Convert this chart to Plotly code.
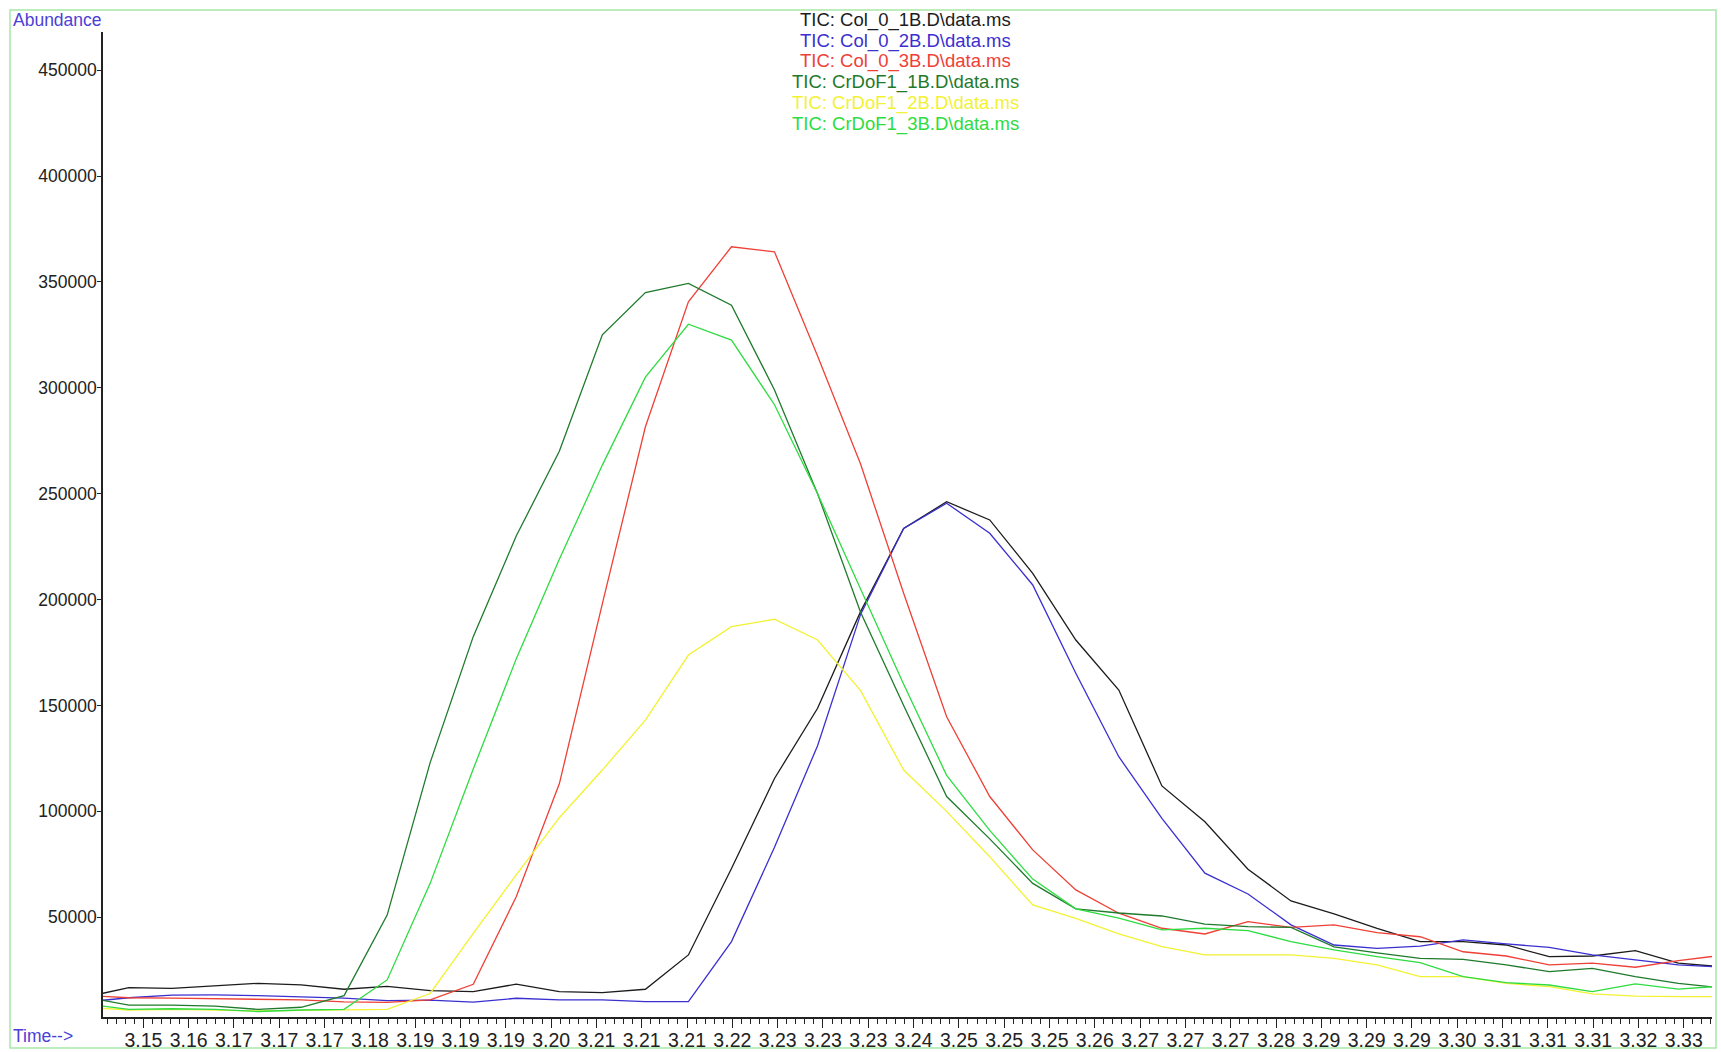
import plotly.graph_objects as go

# ---- data ----
time_min = [3.14327, 3.14831, 3.15334, 3.15838, 3.16341, 3.16845, 3.17348, 3.17852,
            3.18355, 3.18859, 3.19362, 3.19866, 3.20369, 3.20873, 3.21376, 3.21880,
            3.22383, 3.22887, 3.23390, 3.23894, 3.24397, 3.24901, 3.25404, 3.25908,
            3.26411, 3.26915, 3.27418, 3.27922, 3.28425, 3.28929, 3.29432, 3.29936,
            3.30439, 3.30943, 3.31446, 3.31950, 3.32453, 3.32957, 3.33460]

col_0_1b = [12300, 16800, 16400, 17500, 18800, 18100, 16000, 17400, 15400, 14900,
            18400, 14900, 14400, 16000, 32200, 73000, 115500, 148700, 194300, 233600,
            246200, 237600, 212400, 180900, 157300, 112000, 95100, 72700, 57700, 51600,
            44800, 38500, 38500, 36900, 31400, 31700, 34200, 28300, 26600]

col_0_2b = [10000, 12000, 13200, 13300, 13000, 12300, 11800, 10600, 10900, 9900,
            11750, 10950, 10950, 10150, 10150, 38500, 83000, 131000, 193000, 233600,
            245500, 231300, 206900, 165200, 125800, 96700, 70800, 61000, 46400, 36900,
            35300, 36400, 39300, 37400, 35800, 32200, 29800, 27500, 26500]

col_0_3b = [13000, 12000, 11800, 11500, 11200, 11000, 10000, 9850, 10950, 18350,
            59700, 113000, 198000, 281600, 340600, 366600, 364200, 315000, 264000, 203000,
            144700, 107000, 81800, 62900, 51900, 44800, 42100, 47900, 45200, 46400,
            42700, 40800, 33700, 31700, 27500, 28300, 26400, 29500, 32000]

crdof1_1b = [12200, 8500, 8500, 8000, 6500, 7500, 13000, 51000, 123000, 182500,
             230000, 270000, 325000, 345000, 349300, 339000, 299000, 250000, 194000, 150000,
             107000, 87000, 66000, 54000, 52000, 50600, 46800, 45600, 45200, 36000,
             33200, 30600, 30100, 27500, 24300, 25900, 22000, 18800, 16700]

crdof1_2b = [7500, 6200, 6500, 6300, 5800, 6000, 6300, 6500, 14000, 42400,
             70000, 97000, 119500, 143100, 173800, 187200, 190700, 180900, 157000, 119500,
             100000, 78600, 55800, 49500, 42100, 36100, 32200, 32200, 32200, 30600,
             27500, 22000, 22000, 18800, 17200, 13800, 12800, 12500, 12500]

crdof1_3b = [9000, 6500, 6800, 6500, 5500, 6200, 6500, 20400, 66000, 120000,
             172000, 219000, 263500, 305000, 330000, 322500, 292000, 250000, 205000, 160000,
             117000, 91000, 68000, 54000, 49600, 44000, 44800, 43700, 38500, 34600,
             31400, 28600, 22000, 19100, 18000, 14900, 18500, 16100, 17500]

series_names = ["TIC: Col_0_1B.D\\data.ms", "TIC: Col_0_2B.D\\data.ms", "TIC: Col_0_3B.D\\data.ms",
                "TIC: CrDoF1_1B.D\\data.ms", "TIC: CrDoF1_2B.D\\data.ms", "TIC: CrDoF1_3B.D\\data.ms"]
series_values = [col_0_1b, col_0_2b, col_0_3b, crdof1_1b, crdof1_2b, crdof1_3b]
series_colors = ["#1c1c1c", "#3b2fd0", "#ee4036", "#1f7a2c", "#f2f232", "#2edc40"]

x_tick_labels = ["3.15", "3.16", "3.17", "3.17", "3.17", "3.18", "3.19", "3.19", "3.19", "3.20",
                 "3.21", "3.21", "3.21", "3.22", "3.23", "3.23", "3.23", "3.24", "3.25", "3.25",
                 "3.25", "3.26", "3.27", "3.27", "3.27", "3.28", "3.29", "3.29", "3.29", "3.30",
                 "3.31", "3.31", "3.31", "3.32", "3.33"]
y_tick_values = [50000, 100000, 150000, 200000, 250000, 300000, 350000, 400000, 450000]

# ---- layout constants ----
W, H = 1721, 1052
ML, MR, MT, MB = 103, 9, 32, 35
PW, PH = W - ML - MR, H - MT - MB
FONT = "Liberation Sans, Arial, sans-serif"
TXT = "#222222"
LABEL_BLUE = "#4b3fd6"

X_TICK0, X_STEP = 3.150, 0.0053


def px_to_paper_x(px):
    return (px - ML) / PW


def px_to_paper_y(py):
    return 1 - (py - MT) / PH


fig = go.Figure()
for name, vals, col in zip(series_names, series_values, series_colors):
    fig.add_trace(go.Scatter(x=time_min, y=vals, mode="lines", name=name,
                             line=dict(color=col, width=1.3), showlegend=False))

x_tickvals = [X_TICK0 + i * X_STEP for i in range(len(x_tick_labels))]

fig.update_xaxes(
    range=[3.14528, 3.3335], showline=True, linecolor=TXT, linewidth=1.5,
    ticks="outside", ticklen=9, tickwidth=1.3, tickcolor=TXT,
    tickmode="array", tickvals=x_tickvals, ticktext=x_tick_labels,
    tickfont=dict(family=FONT, size=19.5, color=TXT), ticklabelstandoff=-4,
    showgrid=False, zeroline=False, mirror=False, automargin=False,
    minor=dict(ticks="outside", ticklen=5, tickwidth=1, tickcolor=TXT,
               tickmode="linear", tick0=X_TICK0, dtick=X_STEP / 5, showgrid=False),
)
fig.update_yaxes(
    range=[2900, 468000], showline=True, linecolor=TXT, linewidth=1.5,
    ticks="outside", ticklen=4, tickwidth=1.2, tickcolor=TXT,
    tickmode="array", tickvals=y_tick_values, ticktext=[str(v) for v in y_tick_values],
    tickfont=dict(family=FONT, size=17.5, color=TXT), ticklabelstandoff=-3,
    showgrid=False, zeroline=False, automargin=False,
)

annotations = [
    dict(text="Abundance", x=px_to_paper_x(11), y=px_to_paper_y(20), xref="paper", yref="paper",
         xanchor="left", yanchor="middle", showarrow=False,
         font=dict(family=FONT, size=17.5, color=LABEL_BLUE)),
    dict(text="Time-->", x=px_to_paper_x(11), y=px_to_paper_y(1036), xref="paper", yref="paper",
         xanchor="left", yanchor="middle", showarrow=False,
         font=dict(family=FONT, size=17.5, color=LABEL_BLUE)),
]
legend_y = [20, 40.7, 61.5, 82.3, 103.1, 124]
for name, col, ly in zip(series_names, series_colors, legend_y):
    annotations.append(dict(text=name, x=px_to_paper_x(905), y=px_to_paper_y(ly),
                            xref="paper", yref="paper", xanchor="center", yanchor="middle",
                            showarrow=False, font=dict(family=FONT, size=18.5, color=col)))

fig.update_layout(
    width=W, height=H, margin=dict(l=ML, r=MR, t=MT, b=MB, pad=0, autoexpand=False),
    paper_bgcolor="white", plot_bgcolor="white",
    annotations=annotations,
    shapes=[dict(type="rect", xref="paper", yref="paper",
                 x0=px_to_paper_x(10), x1=px_to_paper_x(1716),
                 y0=px_to_paper_y(1048), y1=px_to_paper_y(10),
                 line=dict(color="#a8e6a8", width=1.5), fillcolor="rgba(0,0,0,0)")],
    hovermode=False,
)

fig.write_html("out.html", config={"displayModeBar": False},
               post_script="document.body.style.margin='0';document.body.style.overflow='hidden';")
